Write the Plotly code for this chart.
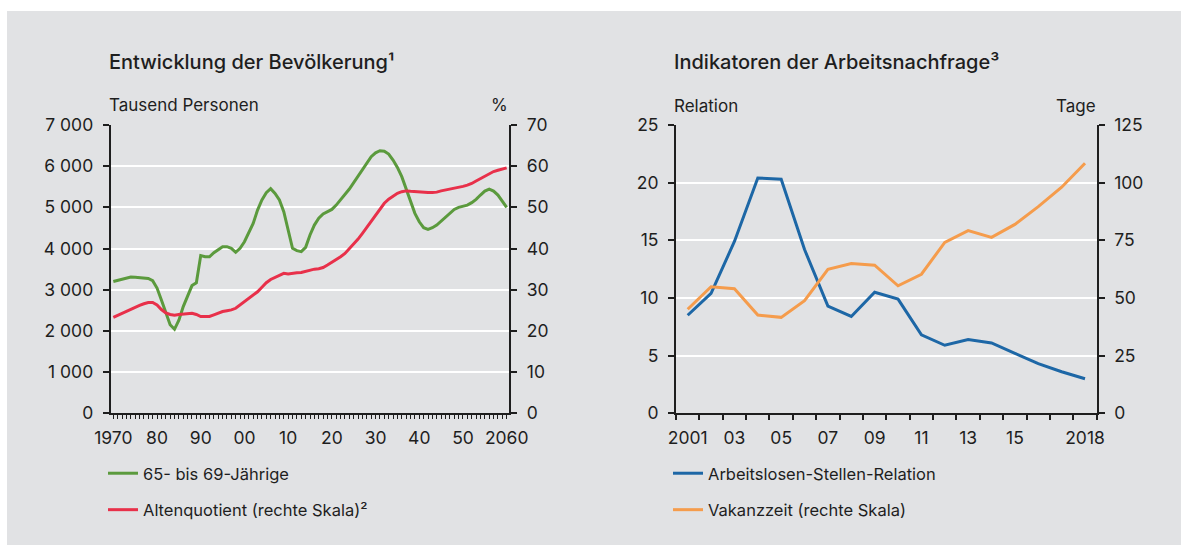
import plotly.graph_objects as go

# ---------------- data ----------------
years_pop = list(range(1970, 2061))
age_65_69 = [
    3200, 3230, 3255, 3290, 3310, 3305, 3290, 3290, 3275, 3220,   # 1970-79
    3040, 2750, 2430, 2150, 2040, 2260, 2590, 2870, 3100, 3170,   # 1980-89
    3830, 3800, 3800, 3900, 3980, 4045, 4045, 4005, 3910, 4005,   # 1990-99
    4165, 4370, 4610, 4935, 5180, 5355, 5455, 5340, 5180, 4895,   # 2000-09
    4450, 4005, 3950, 3925, 4030, 4330, 4570, 4735, 4840, 4895,   # 2010-19
    4950, 5055, 5180, 5300, 5445, 5600, 5760, 5920, 6085, 6230,   # 2020-29
    6325, 6375, 6365, 6295, 6150, 5970, 5745, 5460, 5135, 4855,   # 2030-39
    4650, 4505, 4465, 4505, 4570, 4670, 4775, 4870, 4950, 5000,   # 2040-49
    5030, 5055, 5115, 5195, 5300, 5395, 5445, 5395, 5300, 5160,   # 2050-59
    5000,                                                         # 2060
]
old_age_ratio = [
    23.3, 23.8, 24.3, 24.7, 25.2, 25.7, 26.2, 26.6, 26.9, 26.9,
    26.3, 25.2, 24.4, 24.0, 23.8, 24.0, 24.1, 24.3, 24.3, 24.0,
    23.5, 23.5, 23.5, 23.9, 24.3, 24.7, 24.9, 25.1, 25.5, 26.3,
    27.0, 27.8, 28.6, 29.5, 30.6, 31.7, 32.5, 33.0, 33.5, 34.0,
    33.8, 34.0, 34.1, 34.2, 34.5, 34.7, 35.0, 35.1, 35.4, 36.0,
    36.6, 37.3, 38.0, 38.8, 39.9, 41.0, 42.3, 43.7, 45.1, 46.7,
    48.1, 49.6, 51.0, 52.0, 52.8, 53.4, 53.8, 54.0, 53.9, 53.8,
    53.7, 53.6, 53.6, 53.6, 53.7, 54.0, 54.2, 54.4, 54.7, 54.9,
    55.1, 55.4, 55.8, 56.4, 57.0, 57.6, 58.2, 58.7, 59.0, 59.3,
    59.6,
]
pop_tick_years = [1970, 1980, 1990, 2000, 2010, 2020, 2030, 2040, 2050, 2060]
pop_tick_text = ["1970", "80", "90", "00", "10", "20", "30", "40", "50", "2060"]
persons_ticks = [0, 1000, 2000, 3000, 4000, 5000, 6000, 7000]
persons_text = ["0", "1 000", "2 000", "3 000", "4 000", "5 000", "6 000", "7 000"]
ratio_pct_ticks = [0, 10, 20, 30, 40, 50, 60, 70]

years_lab = list(range(2001, 2019))
unemp_vacancy_ratio = [8.5, 10.4, 14.9, 20.4, 20.3, 14.2, 9.3, 8.4, 10.5, 9.9,
                       6.8, 5.9, 6.4, 6.1, 5.2, 4.3, 3.6, 3.0]
vacancy_duration = [45.1, 54.9, 54.0, 42.6, 41.6, 48.8, 62.4, 64.9, 64.2, 55.3,
                    60.3, 74.1, 79.2, 76.3, 81.9, 89.6, 98.0, 108.4]
lab_tick_years = [2001, 2003, 2005, 2007, 2009, 2011, 2013, 2015, 2018]
lab_tick_text = ["2001", "03", "05", "07", "09", "11", "13", "15", "2018"]
relation_ticks = [0, 5, 10, 15, 20, 25]
days_ticks = [0, 25, 50, 75, 100, 125]

# ---------------- style ----------------
W, H = 1181, 545
BG = "#e1e2e4"
AX = "#1e1e1e"
TXT = "#1e1e1e"
FONT = "Inter"
GREEN, RED, BLUE, ORANGE = "#5b9a3d", "#e8304a", "#1d67a6", "#f59c4c"

def px_x(p):
    return p / W

def px_y(p):
    return 1 - p / H

xd_left = [px_x(110.7), px_x(509.3)]
xd_right = [px_x(676), px_x(1096.7)]
yd = [px_y(413.3), px_y(125)]

fig = go.Figure()
fig.add_trace(go.Scatter(x=years_pop, y=age_65_69, name="65- bis 69-Jährige",
                         mode="lines", line=dict(color=GREEN, width=3),
                         xaxis="x", yaxis="y", legend="legend", legendgroup="a"))
fig.add_trace(go.Scatter(x=years_pop, y=old_age_ratio, name="Altenquotient (rechte Skala)²",
                         mode="lines", line=dict(color=RED, width=3),
                         xaxis="x", yaxis="y2", legend="legend", legendgroup="b"))
fig.add_trace(go.Scatter(x=years_lab, y=unemp_vacancy_ratio, name="Arbeitslosen-Stellen-Relation",
                         mode="lines", line=dict(color=BLUE, width=3),
                         xaxis="x2", yaxis="y3", legend="legend2", legendgroup="c"))
fig.add_trace(go.Scatter(x=years_lab, y=vacancy_duration, name="Vakanzzeit (rechte Skala)",
                         mode="lines", line=dict(color=ORANGE, width=3),
                         xaxis="x2", yaxis="y4", legend="legend2", legendgroup="d"))

tickfont = dict(family=FONT, size=17.5, color=TXT)
common_y = dict(showline=True, linecolor=AX, linewidth=2, ticks="outside", ticklen=6,
                tickwidth=2, tickcolor=AX, tickfont=tickfont, zeroline=False,
                ticklabelstandoff=6, automargin=False)

legend_font = dict(family=FONT, size=16.5, color=TXT)
fig.update_layout(
    width=W, height=H,
    margin=dict(l=0, r=0, t=0, b=0, pad=0),
    autosize=False,
    paper_bgcolor="white",
    plot_bgcolor="rgba(0,0,0,0)",
    font=dict(family=FONT, color=TXT),
    showlegend=True,
    xaxis=dict(domain=xd_left, anchor="y", range=[1969.4, 2060.6], automargin=False,
               tickmode="array", tickvals=pop_tick_years, ticktext=pop_tick_text,
               showline=True, linecolor=AX, linewidth=2, ticks="outside", ticklen=4,
               tickwidth=1, tickcolor=AX, tickfont=tickfont, showgrid=False, zeroline=False,
               ticklabelstandoff=4,
               minor=dict(tick0=1970, dtick=1, ticks="outside", ticklen=4, tickwidth=1,
                          tickcolor=AX, showgrid=False)),
    yaxis=dict(domain=yd, anchor="x", range=[0, 7000], tickmode="array",
               tickvals=persons_ticks, ticktext=persons_text,
               showgrid=True, gridcolor="white", gridwidth=2, **common_y),
    yaxis2=dict(domain=yd, anchor="x", overlaying="y", side="right", range=[0, 70],
                tickmode="array", tickvals=ratio_pct_ticks, showgrid=False, **common_y),
    xaxis2=dict(domain=xd_right, anchor="y3", range=[2000.5, 2018.5], automargin=False,
                tickmode="array", tickvals=lab_tick_years, ticktext=lab_tick_text,
                showline=True, linecolor=AX, linewidth=2, ticks="", tickfont=tickfont,
                showgrid=False, zeroline=False, ticklabelstandoff=8,
                minor=dict(tick0=2000.5, dtick=1, ticks="outside", ticklen=5, tickwidth=2,
                           tickcolor=AX, showgrid=False)),
    yaxis3=dict(domain=yd, anchor="x2", range=[0, 25], tickmode="array",
                tickvals=relation_ticks, showgrid=True, gridcolor="white", gridwidth=2,
                **common_y),
    yaxis4=dict(domain=yd, anchor="x2", overlaying="y3", side="right", range=[0, 125],
                tickmode="array", tickvals=days_ticks, showgrid=False, **common_y),
    legend=dict(x=px_x(103), y=px_y(456), xanchor="left", yanchor="top",
                bgcolor="rgba(0,0,0,0)", font=legend_font,
                traceorder="grouped", tracegroupgap=12, itemwidth=30),
    legend2=dict(x=px_x(668), y=px_y(456), xanchor="left", yanchor="top",
                 bgcolor="rgba(0,0,0,0)", font=legend_font,
                 traceorder="grouped", tracegroupgap=12, itemwidth=30),
)

# grey panel
fig.add_shape(type="rect", xref="paper", yref="paper", x0=px_x(7), x1=1.0,
              y0=0, y1=px_y(11), fillcolor=BG, line=dict(width=0), layer="below")

title_font = dict(family=FONT, size=20, color=TXT, weight=500)
label_font = dict(family=FONT, size=17, color=TXT)
ann = [
    dict(text="Entwicklung der Bevölkerung¹", x=px_x(107), y=px_y(62), xanchor="left",
         yanchor="middle", font=title_font),
    dict(text="Tausend Personen", x=px_x(107), y=px_y(105), xanchor="left",
         yanchor="middle", font=label_font),
    dict(text="%", x=px_x(510), y=px_y(105), xanchor="right", yanchor="middle",
         font=label_font),
    dict(text="Indikatoren der Arbeitsnachfrage³", x=px_x(672), y=px_y(62), xanchor="left",
         yanchor="middle", font=title_font),
    dict(text="Relation", x=px_x(672), y=px_y(106), xanchor="left", yanchor="middle",
         font=label_font),
    dict(text="Tage", x=px_x(1098), y=px_y(106), xanchor="right", yanchor="middle",
         font=label_font),
]
for a in ann:
    fig.add_annotation(xref="paper", yref="paper", showarrow=False, **a)

fig.write_html("out.html", config={"displayModeBar": False},
               post_script="document.body.style.margin='0';")
